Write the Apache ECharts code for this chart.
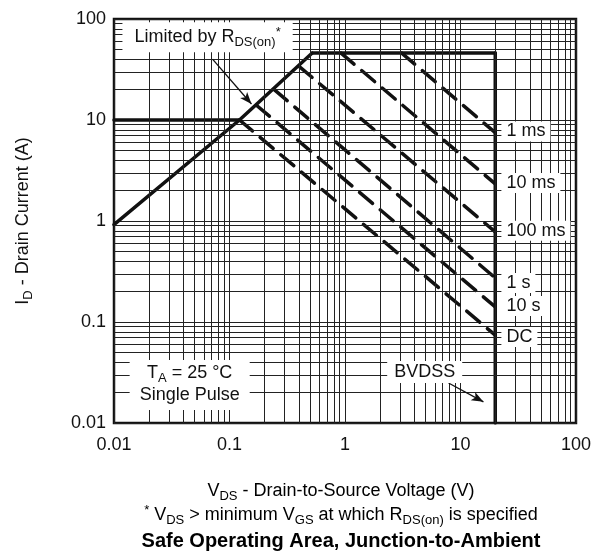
<!DOCTYPE html>
<html><head><meta charset="utf-8">
<script src="https://cdn.jsdelivr.net/npm/echarts@6.0.0/dist/echarts.min.js"></script>
<style>html,body{margin:0;padding:0;background:#fff}#c{width:594px;height:555px}</style>
</head><body><div id="c"></div>
<script>
// ---- data ----
const xTickLabels = ['0.01','0.1','1','10','100'];
const yTickLabels = ['0.01','0.1','1','10','100'];
const decades = [0.01, 0.1, 1, 10];
const minorSteps = [2,3,4,5,6,7,8,9];

const rdsLimit     = [[0.01,0.92],[0.122,10],[0.52,46]];
const currentLimit = [[0.01,10],[0.122,10]];
const powerLimit   = [[0.52,46],[20,46]];
const bvdssLimit   = [[20,46],[20,0.01]];

const pulse1ms   = [[3.1,46],[20,7.5]];
const pulse10ms  = [[0.925,46],[20,2.33]];
const pulse100ms = [[0.40,34],[20,0.78]];
const pulse1s    = [[0.244,20],[20,0.273]];
const pulse10s   = [[0.171,14],[20,0.141]];
const pulseDC    = [[0.122,10],[20,0.074]];

const pulseNames  = ['1 ms','10 ms','100 ms','1 s','10 s','DC'];
const pulseLabelX = 22.6;
const pulseLabelY = [7.7,2.38,0.80,0.243,0.144,0.071];

const rdsNotePos   = [0.0646, 66];
const rdsArrow     = [[0.0713,40],[0.155,14.4]];
const bvdssNotePos = [4.9, 0.032];
const bvdssArrow   = [[7.88,0.0249],[15.8,0.0162]];
const condNotePos  = [0.0452, 0.0238];

// ---- styling ----
const FONT = '"Liberation Sans", Arial, Helvetica, sans-serif';
const TXT = '#111';
const richBase = {
  m: {fontFamily: FONT, fontSize: 18, color: TXT, lineHeight: 22},
  s: {fontFamily: FONT, fontSize: 13, color: TXT, lineHeight: 22, padding: [11,0,0,0]},
  p: {fontFamily: FONT, fontSize: 13, color: TXT, lineHeight: 22, padding: [0,0,10,0]},
  b: {fontFamily: FONT, fontSize: 20, color: TXT, fontWeight: 'bold', lineHeight: 24}
};

const minorX = [], minorY = [];
decades.forEach(d => minorSteps.forEach(k => { minorX.push(+(k*d).toPrecision(3)); minorY.push(+(k*d).toPrecision(3)); }));

function nearestLabel(v, labels) {
  let best = labels[0], bd = Infinity;
  labels.forEach(l => { const dd = Math.abs(Math.log10(+l) - Math.log10(v)); if (dd < bd) { bd = dd; best = l; } });
  return best;
}

const solid = (name, data) => ({
  name, type: 'line', data, symbol: 'none', z: 4, silent: true,
  lineStyle: {color: '#111', width: 3.5, cap: 'round', join: 'round'}
});
const dashed = (name, data) => ({
  name, type: 'line', data, symbol: 'none', z: 4, silent: true,
  lineStyle: {color: '#111', width: 3.5, type: [17, 10], cap: 'round'}
});

const chart = echarts.init(document.getElementById('c'), null, {renderer: 'canvas'});
chart.setOption({
  animation: false,
  backgroundColor: '#fff',
  grid: {left: 114, right: 16, top: 19, bottom: 132, show: true, borderColor: '#111', borderWidth: 2.5, backgroundColor: 'transparent'},
  xAxis: {
    type: 'log', logBase: 10, min: 0.01, max: 100,
    axisLine: {show: false}, axisTick: {show: false},
    splitLine: {show: true, lineStyle: {color: '#222', width: 1}},
    axisLabel: {fontFamily: FONT, fontSize: 18, color: TXT, margin: 13,
      formatter: v => nearestLabel(v, xTickLabels)}
  },
  yAxis: {
    type: 'log', logBase: 10, min: 0.01, max: 100,
    axisLine: {show: false}, axisTick: {show: false},
    splitLine: {show: true, lineStyle: {color: '#222', width: 1}},
    axisLabel: {fontFamily: FONT, fontSize: 18, color: TXT, margin: 8,
      formatter: v => nearestLabel(v, yTickLabels)},
    name: '{m|I}{s|D}{m| - Drain Current (A)}',
    nameLocation: 'middle', nameRotate: 90, nameGap: 80,
    nameTextStyle: {rich: richBase}
  },
  graphic: [
    {type: 'text', x: 341, y: 491, z: 10, style: {text: '{m|V}{s|DS}{m| - Drain-to-Source Voltage (V)}', rich: richBase, align: 'center', verticalAlign: 'middle'}},
    {type: 'text', x: 341, y: 515, z: 10, style: {text: '{p|*}{m| V}{s|DS}{m| > minimum V}{s|GS}{m| at which R}{s|DS(on)}{m| is specified}', rich: richBase, align: 'center', verticalAlign: 'middle'}},
    {type: 'text', x: 341, y: 541, z: 10, style: {text: '{b|Safe Operating Area, Junction-to-Ambient}', rich: richBase, align: 'center', verticalAlign: 'middle'}}
  ],
  series: [
    {
      name: 'minorGrid', type: 'line', data: [], symbol: 'none', z: 1, silent: true,
      markLine: {
        silent: true, symbol: ['none','none'], label: {show: false}, animation: false,
        lineStyle: {color: '#222', width: 1, type: 'solid'},
        emphasis: {disabled: true},
        data: [...minorX.map(v => ({xAxis: v})), ...minorY.map(v => ({yAxis: v}))]
      }
    },
    solid('R_DS(on) limit', rdsLimit),
    solid('Current limit', currentLimit),
    solid('Power limit', powerLimit),
    solid('BVDSS', bvdssLimit),
    dashed('1 ms', pulse1ms),
    dashed('10 ms', pulse10ms),
    dashed('100 ms', pulse100ms),
    dashed('1 s', pulse1s),
    dashed('10 s', pulse10s),
    dashed('DC', pulseDC),
    {
      name: 'notes', type: 'scatter', symbolSize: 0, z: 6, silent: true,
      itemStyle: {opacity: 1},
      emphasis: {disabled: true},
      data: [
        ...pulseNames.map((n, i) => ({value: [pulseLabelX, pulseLabelY[i]],
          label: {show: true, position: 'right', distance: 0, formatter: n, fontFamily: FONT, fontSize: 18, color: TXT, backgroundColor: '#fff', padding: [1,5,1,5]}})),
        {value: rdsNotePos, label: {show: true, position: 'inside', formatter: '{m|Limited by R}{s|DS(on)}{p|*}', rich: richBase, backgroundColor: '#fff', padding: [4,12,4,12]}},
        {value: bvdssNotePos, label: {show: true, position: 'inside', formatter: '{m|BVDSS}', rich: richBase, backgroundColor: '#fff', padding: [0,7,0,7]}},
        {value: condNotePos, label: {show: true, position: 'inside', formatter: '{m|T}{s|A}{m| = 25 °C}\n{m|Single Pulse}', rich: richBase, backgroundColor: '#fff', padding: [2,10,4,10], align: 'center'}}
      ],
      markLine: {
        silent: true, symbol: ['none','arrow'], symbolSize: [7, 12], label: {show: false}, animation: false,
        lineStyle: {color: '#111', width: 1.3, type: 'solid', opacity: 1},
        emphasis: {disabled: true},
        data: [
          [{coord: rdsArrow[0]}, {coord: rdsArrow[1]}],
          [{coord: bvdssArrow[0]}, {coord: bvdssArrow[1]}]
        ]
      }
    }
  ]
});
</script></body></html>
